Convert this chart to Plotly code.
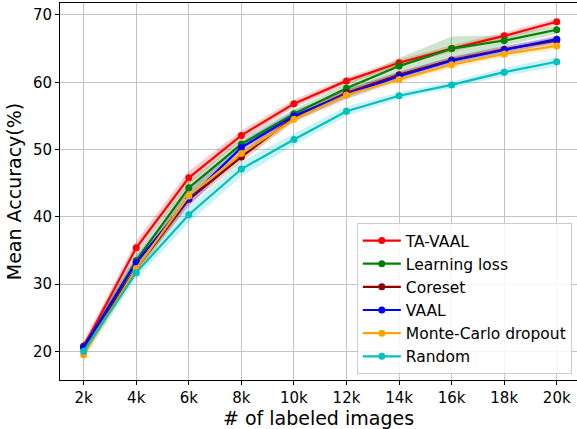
import plotly.graph_objects as go

# Labeled-set sizes (thousands of images)
budget_k = [2, 4, 6, 8, 10, 12, 14, 16, 18, 20]
tick_text = ["2k", "4k", "6k", "8k", "10k", "12k", "14k", "16k", "18k", "20k"]

# Mean accuracy (%) per method
ta_vaal = [20.7, 35.4, 45.8, 52.1, 56.8, 60.2, 62.9, 65.0, 66.9, 69.0]
learning_loss = [20.5, 33.5, 44.3, 50.8, 55.3, 59.1, 62.4, 65.0, 66.2, 67.8]
coreset = [20.8, 32.3, 42.6, 48.9, 54.8, 58.4, 61.1, 63.3, 64.9, 66.2]
vaal = [20.6, 33.2, 42.7, 50.3, 55.0, 58.2, 60.9, 63.2, 64.8, 66.4]
mc_dropout = [19.5, 32.3, 43.1, 49.4, 54.5, 58.1, 60.4, 62.6, 64.2, 65.4]
random_sel = [20.0, 31.7, 40.3, 47.1, 51.5, 55.7, 58.0, 59.6, 61.5, 63.05]

# Standard deviation over runs
ta_vaal_std = [0.8, 1.0, 1.0, 0.7, 0.6, 0.5, 0.5, 0.5, 0.5, 0.5]
learning_loss_std = [0.7, 0.9, 0.9, 0.8, 0.7, 0.7, 1.2, 1.8, 0.8, 0.6]
coreset_std = [0.6, 0.8, 0.8, 0.7, 0.6, 0.6, 0.5, 0.5, 0.5, 0.5]
vaal_std = [0.7, 1.0, 1.2, 0.9, 0.8, 0.7, 0.6, 0.5, 0.5, 0.5]
mc_dropout_std = [0.8, 0.9, 0.9, 0.7, 0.6, 0.6, 0.5, 0.5, 0.5, 0.5]
random_std = [0.8, 1.0, 1.2, 1.1, 0.9, 0.7, 0.5, 0.5, 0.6, 0.7]

methods = ["TA-VAAL", "Learning loss", "Coreset", "VAAL", "Monte-Carlo dropout", "Random"]
means = [ta_vaal, learning_loss, coreset, vaal, mc_dropout, random_sel]
stds = [ta_vaal_std, learning_loss_std, coreset_std, vaal_std, mc_dropout_std, random_std]
colors = ["#ff0000", "#008000", "#8b0000", "#0000ff", "#ffa500", "#00bfbf"]


def rgba(hex_color, alpha):
    h = hex_color.lstrip("#")
    r, g, b = int(h[0:2], 16), int(h[2:4], 16), int(h[4:6], 16)
    return f"rgba({r},{g},{b},{alpha})"


fig = go.Figure()

# Shaded +/- std bands
for name, m, s, c in zip(methods, means, stds, colors):
    lower = [a - b for a, b in zip(m, s)]
    upper = [a + b for a, b in zip(m, s)]
    fig.add_trace(go.Scatter(x=budget_k, y=lower, mode="lines", line=dict(width=0),
                             showlegend=False, hoverinfo="skip", legendgroup=name))
    fig.add_trace(go.Scatter(x=budget_k, y=upper, mode="lines", line=dict(width=0),
                             fill="tonexty", fillcolor=rgba(c, 0.2),
                             showlegend=False, hoverinfo="skip", legendgroup=name))

# Mean curves
for name, m, c in zip(methods, means, colors):
    fig.add_trace(go.Scatter(x=budget_k, y=m, mode="lines+markers", name=name,
                             legendgroup=name,
                             line=dict(color=c, width=2.2),
                             marker=dict(color=c, size=7)))

font_family = "DejaVu Sans"

fig.update_layout(
    width=577, height=429,
    margin=dict(l=60, r=0, t=3, b=49),
    paper_bgcolor="white", plot_bgcolor="white",
    font=dict(family=font_family, color="black", size=15),
    showlegend=True,
    legend=dict(
        x=0.99, y=0.016, xanchor="right", yanchor="bottom",
        bgcolor="rgba(255,255,255,0.85)", bordercolor="#cccccc", borderwidth=1,
        font=dict(family=font_family, size=15.5, color="black"),
        tracegroupgap=0, itemwidth=38,
    ),
)

fig.update_xaxes(
    range=[1.1, 20.77],
    tickmode="array", tickvals=budget_k, ticktext=tick_text,
    ticks="outside", ticklen=4, tickcolor="black",
    tickfont=dict(size=15),
    showgrid=True, gridcolor="#c4c4c4", gridwidth=1,
    showline=True, linecolor="black", linewidth=1, mirror=True,
    zeroline=False,
    title=dict(text="# of labeled images", font=dict(size=19), standoff=6),
)

fig.update_yaxes(
    range=[15.74, 71.78],
    tickmode="array", tickvals=[20, 30, 40, 50, 60, 70],
    ticks="outside", ticklen=4, tickcolor="black",
    tickfont=dict(size=15),
    showgrid=True, gridcolor="#c4c4c4", gridwidth=1,
    showline=True, linecolor="black", linewidth=1, mirror=False,
    zeroline=False,
    title=dict(text="Mean Accuracy(%)", font=dict(size=19), standoff=6),
)

fig.write_html("out.html")
